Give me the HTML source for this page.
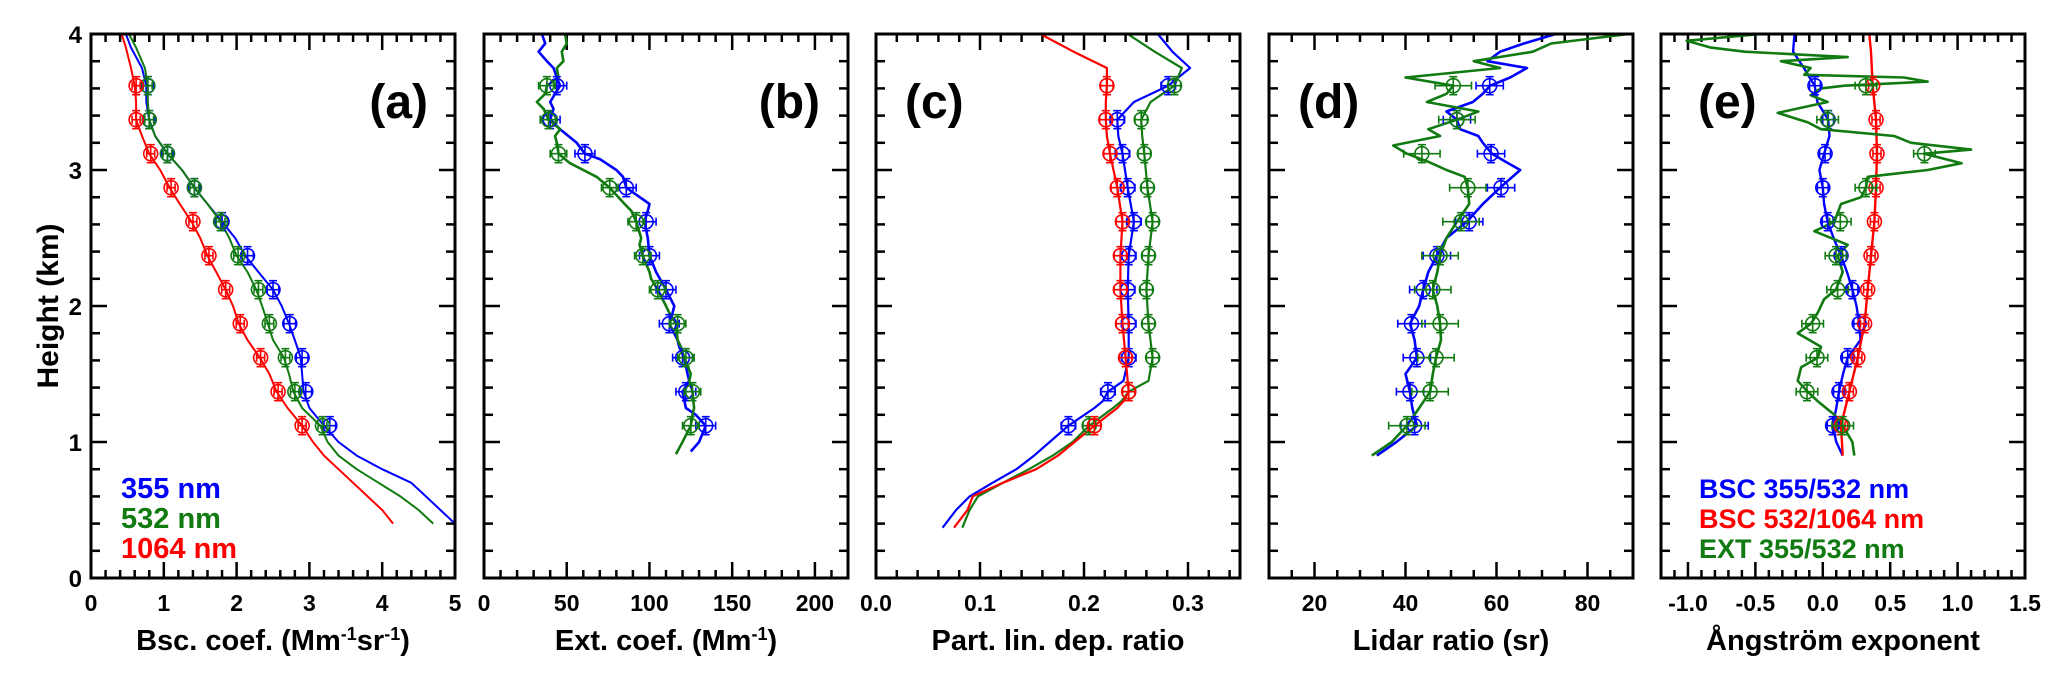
<!DOCTYPE html>
<html><head><meta charset="utf-8">
<style>
html,body{margin:0;padding:0;background:#fff;}
svg{display:block;font-family:"Liberation Sans",Arial,sans-serif;font-weight:bold;}
</style></head>
<body>
<svg id="fig" width="2067" height="682" viewBox="0 0 2067 682" xmlns="http://www.w3.org/2000/svg">
<text x="0" y="0" transform="translate(50,306) rotate(-90)" text-anchor="middle" font-size="30" dominant-baseline="middle">Height (km)</text>
</svg>
<script>
// shared heights
const markerH = [1.12,1.37,1.62,1.87,2.12,2.37,2.62,2.87,3.12,3.37,3.62];
const yTicks = [0,1,2,3,4];

// ---- panel a data ----
const aLineH = [0.4,0.5,0.6,0.7,0.8,0.9,1.0,1.12,1.25,1.37,1.5,1.62,1.75,1.87,2.0,2.12,2.25,2.37,2.5,2.62,2.75,2.87,3.0,3.12,3.25,3.37,3.5,3.62,3.75,3.9,4.0];
const aBlue  = [5.0,4.8,4.6,4.4,4.0,3.65,3.4,3.2,3.0,2.92,2.9,2.88,2.8,2.72,2.62,2.5,2.3,2.12,1.98,1.8,1.6,1.42,1.25,1.05,0.88,0.8,0.76,0.76,0.7,0.55,0.48];
const aGreen = [4.7,4.5,4.25,3.95,3.65,3.4,3.25,3.15,2.9,2.78,2.72,2.65,2.5,2.43,2.35,2.27,2.15,2.0,1.9,1.78,1.6,1.42,1.25,1.05,0.88,0.8,0.78,0.78,0.74,0.62,0.52];
const aRed   = [4.15,4.0,3.8,3.6,3.4,3.2,3.05,2.9,2.7,2.55,2.45,2.32,2.15,2.03,1.95,1.85,1.72,1.6,1.5,1.38,1.22,1.08,0.95,0.8,0.7,0.62,0.62,0.6,0.55,0.48,0.42];
const aBlueM  = [3.28,2.95,2.9,2.73,2.5,2.15,1.8,1.42,1.05,0.8,0.78];
const aGreenM = [3.18,2.8,2.67,2.45,2.3,2.02,1.78,1.42,1.05,0.8,0.78];
const aRedM   = [2.9,2.57,2.33,2.05,1.85,1.62,1.4,1.1,0.82,0.62,0.62];

// ---- panel b data ----
const bBlueH = [0.93,1.0,1.12,1.2,1.25,1.37,1.45,1.5,1.62,1.7,1.75,1.87,1.95,2.0,2.12,2.25,2.37,2.5,2.62,2.7,2.75,2.87,2.95,3.0,3.08,3.12,3.2,3.25,3.3,3.37,3.45,3.5,3.56,3.62,3.68,3.75,3.8,3.87,3.93,4.0];
const bBlue  = [125,130,134,128,122,120,124,123,121,118,117,112,114,115,110,104,100,99,97,99,100,86,84,80,70,61,56,51,46,40,42,40,43,46,44,42,38,33,37,35];
const bGreenH = [0.91,1.0,1.12,1.2,1.25,1.37,1.45,1.5,1.62,1.7,1.75,1.87,1.95,2.0,2.12,2.2,2.25,2.37,2.45,2.5,2.62,2.7,2.75,2.87,2.95,3.0,3.05,3.12,3.2,3.25,3.3,3.37,3.45,3.5,3.56,3.62,3.68,3.75,3.8,3.87,3.93,4.0];
const bGreen  = [116,120,125,126,127,126,124,125,121,119,117,116,112,110,105,101,100,96,94,95,92,89,85,76,68,60,52,45,44,43,46,39,36,32,37,38,45,44,48,47,50,49];
const bBlueM  = [134,122,120,112,110,100,98,86,61,40,44];
const bGreenM = [125,126,122,117,105,96,92,76,45,39,38];

// ---- panel c data ----
const cLineH = [0.37,0.5,0.6,0.7,0.8,0.9,1.0,1.12,1.25,1.3,1.37,1.45,1.62,1.87,2.12,2.37,2.62,2.87,3.12,3.25,3.37,3.5,3.62,3.75,3.87,4.0];
const cBlue  = [0.064,0.077,0.09,0.112,0.135,0.152,0.167,0.185,0.21,0.218,0.223,0.238,0.243,0.243,0.242,0.243,0.248,0.242,0.237,0.233,0.232,0.248,0.281,0.302,0.285,0.271];
const cRed   = [0.075,0.088,0.093,0.122,0.154,0.175,0.191,0.21,0.232,0.238,0.243,0.242,0.240,0.237,0.235,0.235,0.237,0.232,0.225,0.222,0.221,0.221,0.222,0.222,0.19,0.158];
const cGreen = [0.083,0.09,0.098,0.122,0.147,0.17,0.189,0.205,0.228,0.236,0.243,0.262,0.266,0.262,0.260,0.262,0.266,0.261,0.258,0.256,0.255,0.264,0.287,0.294,0.268,0.242];
const cBlueM  = [0.185,0.223,0.243,0.243,0.242,0.243,0.248,0.242,0.237,0.232,0.281];
const cRedM   = [0.21,0.243,0.240,0.237,0.235,0.235,0.237,0.232,0.225,0.221,0.222];
const cGreenM = [0.205,0.243,0.266,0.262,0.260,0.262,0.266,0.261,0.258,0.255,0.287];

// ---- panel d data ----
const dBlueH = [0.9,1.0,1.12,1.25,1.37,1.5,1.62,1.75,1.87,2.0,2.12,2.25,2.37,2.5,2.62,2.75,2.87,3.0,3.06,3.12,3.2,3.25,3.3,3.37,3.43,3.5,3.56,3.62,3.68,3.75,3.8,3.87,3.93,4.0];
const dBlue  = [33.7,38,42.5,41.5,41,40,42.5,42,41,43,43.9,45,46.9,49,53.5,57,60.8,65.2,62,59,57,56,52,51.3,49,54.8,57,58.6,63,66.7,58,60.8,66,73];
const dGreenH = [0.9,1.0,1.12,1.25,1.37,1.5,1.62,1.75,1.87,2.0,2.12,2.25,2.37,2.5,2.62,2.75,2.87,2.95,3.0,3.06,3.12,3.18,3.25,3.3,3.37,3.43,3.5,3.56,3.62,3.68,3.75,3.8,3.87,3.93,4.0];
const dGreen  = [32.6,37,40.3,43,45.4,46,46.7,47.8,47.6,47,46,47,47.6,49,51.3,54,53.7,53,49,45,40.3,37.3,47.6,45,51.3,56,44.7,49,50.5,40,60.8,55,68,72,89];
const dBlueM  = [42,41,42.5,41.3,43.9,46.9,54,61,58.8,51.3,58.5];
const dGreenM = [40.3,45.4,46.7,47.6,46,47.6,52.2,53.7,43.6,51.3,50.5];

// ---- panel e data ----
const eBlueH = [0.9,1.0,1.12,1.25,1.37,1.5,1.62,1.75,1.87,2.0,2.12,2.25,2.37,2.5,2.62,2.75,2.87,3.0,3.12,3.25,3.37,3.5,3.62,3.75,3.87,4.0];
const eBlue  = [0.148,0.1,0.073,0.1,0.12,0.15,0.185,0.28,0.27,0.25,0.22,0.18,0.135,0.08,0.036,0.01,0.0,-0.025,0.01,0.05,0.04,-0.04,-0.06,-0.14,-0.22,-0.21];
const eRedH = [0.9,1.12,1.37,1.62,1.87,2.12,2.37,2.62,2.87,3.12,3.37,3.62,3.87,4.0];
const eRed  = [0.148,0.135,0.197,0.26,0.31,0.333,0.358,0.383,0.395,0.402,0.395,0.37,0.358,0.345];
const eGreenH = [0.9,1.0,1.12,1.2,1.3,1.37,1.45,1.55,1.62,1.7,1.8,1.87,1.95,2.05,2.12,2.25,2.37,2.45,2.55,2.62,2.75,2.8,2.87,2.95,3.0,3.05,3.12,3.15,3.2,3.25,3.3,3.35,3.42,3.5,3.55,3.6,3.62,3.65,3.68,3.7,3.75,3.8,3.83,3.87,3.9,3.95,4.0];
const eGreen  = [0.234,0.22,0.148,0.086,-0.038,-0.112,-0.186,-0.16,-0.038,-0.013,-0.186,-0.087,-0.038,0.01,0.098,0.148,0.11,0.185,-0.062,0.086,0.135,0.284,0.32,0.333,0.778,1.03,0.754,1.1,0.655,0.53,-0.013,-0.11,-0.334,0.036,-0.09,-0.013,0.16,0.778,0.6,-0.137,-0.09,-0.31,0.185,-0.58,-0.83,-1.01,-0.46];
const eBlueM  = [0.073,0.12,0.185,0.27,0.22,0.135,0.036,0.0,0.017,0.04,-0.058];
const eRedM   = [0.135,0.197,0.26,0.31,0.333,0.358,0.383,0.395,0.402,0.395,0.37];
const eGreenM = [0.148,-0.117,-0.043,-0.075,0.11,0.098,0.13,0.32,0.754,0.036,0.32];

const BLUE='#0000ff', GREEN='#117a11', RED='#ff0000';
const NS='http://www.w3.org/2000/svg';
const svg=document.getElementById('fig');
const TOP=34, BOT=578, W=364;
const yOf = h => BOT - (h/4)*(BOT-TOP);

function mk(tag, attrs, parent){
  const e=document.createElementNS(NS,tag);
  for(const k in attrs) e.setAttribute(k,attrs[k]);
  (parent||svg).appendChild(e);
  return e;
}

function panel(cfg){
  const g=mk('g',{});
  
  
  const x0=cfg.left, x1=cfg.left+W;
  const xOf = v => x0 + (v-cfg.min)/(cfg.max-cfg.min)*W;
  const tg=mk('g',{stroke:'#000','stroke-width':2.5},g);
  
  
  const nMinor=Math.floor((cfg.max-cfg.min)/cfg.minor+1e-6);
  for(let i=0;i<=nMinor;i++){
    const v=cfg.min+i*cfg.minor;
    const isMaj=Math.abs(v/cfg.major-Math.round(v/cfg.major))<1e-6;
    const L=isMaj?16:8, x=xOf(v);
    mk('line',{x1:x,x2:x,y1:BOT,y2:BOT-L},tg);
    mk('line',{x1:x,x2:x,y1:TOP,y2:TOP+L},tg);
  }
  for(let i=0;i<=20;i++){
    const h=i*0.2, y=yOf(h), L=(i%5===0)?16:9;
    mk('line',{x1:x0,x2:x0+L,y1:y,y2:y},tg);
    mk('line',{x1:x1,x2:x1-L,y1:y,y2:y},tg);
  }
  cfg.labels.forEach(v=>{
    const t=mk('text',{x:xOf(v),y:611,'text-anchor':'middle','font-size':23},g);
    t.textContent=v.toFixed(cfg.dec);
    
    
  });
  cfg.lines.forEach(s=>{
    const pts=s.h.map((h,i)=>xOf(s.v[i]).toFixed(1)+','+yOf(h).toFixed(1)).join(' ');
    const p=mk('polyline',{points:pts,fill:'none',stroke:s.c,'stroke-width':s.w||2.2,'stroke-linejoin':'round'},g);
    
    
  });
  cfg.marks.forEach(s=>{
    const mg=mk('g',{stroke:s.c,fill:'none','stroke-width':1.6},g);
    
    
    markerH.forEach((h,i)=>{
      const x=xOf(s.v[i]), y=yOf(h), ex=Math.max(s.e*W/(cfg.max-cfg.min),4), ey=9;
      mk('line',{x1:x-ex,x2:x+ex,y1:y,y2:y},mg);
      mk('line',{x1:x-ex,x2:x-ex,y1:y-4,y2:y+4},mg);
      mk('line',{x1:x+ex,x2:x+ex,y1:y-4,y2:y+4},mg);
      mk('line',{x1:x,x2:x,y1:y-ey,y2:y+ey},mg);
      mk('line',{x1:x-4,x2:x+4,y1:y-ey,y2:y-ey},mg);
      mk('line',{x1:x-4,x2:x+4,y1:y+ey,y2:y+ey},mg);
      const c=mk('circle',{cx:x,cy:y,r:7},mg);
      
      
    });
  });
  const f=mk('rect',{x:x0,y:TOP,width:W,height:BOT-TOP,fill:'none',stroke:'#000','stroke-width':3},g);
  
  
  const lt=mk('text',{x:cfg.lx,y:118,'font-size':48,'text-anchor':cfg.la},g);
  lt.textContent='('+cfg.id+')';
  
  
  const tt=mk('text',{x:x0+W/2,y:650,'font-size':29,'text-anchor':'middle'},g);
  tt.innerHTML=cfg.title;
  
  
}

yTicks.forEach(v=>{
  const t=mk('text',{x:82,y:yOf(v)+9,'text-anchor':'end','font-size':24});
  t.textContent=v;
  
  
});

panel({id:'a',left:91,min:0,max:5,major:1,minor:0.2,labels:[0,1,2,3,4,5],dec:0,lx:428,la:'end',
  title:'Bsc. coef. (Mm<tspan dy="-10" font-size="18">-1</tspan><tspan dy="10">sr</tspan><tspan dy="-10" font-size="18">-1</tspan><tspan dy="10">)</tspan>',
  lines:[{n:'355',h:aLineH,v:aBlue,c:BLUE,w:2},{n:'532',h:aLineH,v:aGreen,c:GREEN,w:2},{n:'1064',h:aLineH,v:aRed,c:RED,w:2}],
  marks:[{n:'355',v:aBlueM,c:BLUE,e:0.08},{n:'532',v:aGreenM,c:GREEN,e:0.06},{n:'1064',v:aRedM,c:RED,e:0.05}]});
panel({id:'b',left:484,min:0,max:220,major:50,minor:10,labels:[0,50,100,150,200],dec:0,lx:820,la:'end',
  title:'Ext. coef. (Mm<tspan dy="-10" font-size="18">-1</tspan><tspan dy="10">)</tspan>',
  lines:[{n:'355',h:bBlueH,v:bBlue,c:BLUE,w:2.6},{n:'532',h:bGreenH,v:bGreen,c:GREEN,w:2.6}],
  marks:[{n:'355',v:bBlueM,c:BLUE,e:6},{n:'532',v:bGreenM,c:GREEN,e:5}]});
panel({id:'c',left:876,min:0,max:0.35,major:0.1,minor:0.02,labels:[0,0.1,0.2,0.3],dec:1,lx:905,la:'start',
  title:'Part. lin. dep. ratio',
  lines:[{n:'355',h:cLineH,v:cBlue,c:BLUE,w:2.2},{n:'532',h:cLineH,v:cGreen,c:GREEN,w:2.2},{n:'1064',h:cLineH,v:cRed,c:RED,w:2.2}],
  marks:[{n:'355',v:cBlueM,c:BLUE,e:0.007},{n:'532',v:cGreenM,c:GREEN,e:0.006},{n:'1064',v:cRedM,c:RED,e:0.006}]});
panel({id:'d',left:1269,min:10,max:90,major:20,minor:5,labels:[20,40,60,80],dec:0,lx:1298,la:'start',
  title:'Lidar ratio (sr)',
  lines:[{n:'355',h:dBlueH,v:dBlue,c:BLUE,w:2.6},{n:'532',h:dGreenH,v:dGreen,c:GREEN,w:2.6}],
  marks:[{n:'355',v:dBlueM,c:BLUE,e:3},{n:'532',v:dGreenM,c:GREEN,e:4}]});
panel({id:'e',left:1661,min:-1.2,max:1.5,major:0.5,minor:0.1,labels:[-1,-0.5,0,0.5,1,1.5],dec:1,lx:1698,la:'start',
  title:'Ångström exponent',
  lines:[{n:'bsc355-532',h:eBlueH,v:eBlue,c:BLUE,w:2.4},{n:'bsc532-1064',h:eRedH,v:eRed,c:RED,w:2.4},{n:'ext355-532',h:eGreenH,v:eGreen,c:GREEN,w:2.6}],
  marks:[{n:'bsc355-532',v:eBlueM,c:BLUE,e:0.04},{n:'bsc532-1064',v:eRedM,c:RED,e:0.03},{n:'ext355-532',v:eGreenM,c:GREEN,e:0.08}]});

const legA=[['355 nm',BLUE],['532 nm',GREEN],['1064 nm',RED]];
legA.forEach((l,i)=>{
  const t=mk('text',{x:121,y:498+i*30,'font-size':29,fill:l[1]});
  t.textContent=l[0];
  
  
});
const legE=[['BSC 355/532 nm',BLUE],['BSC 532/1064 nm',RED],['EXT 355/532 nm',GREEN]];
legE.forEach((l,i)=>{
  const t=mk('text',{x:1699,y:498+i*30,'font-size':27,fill:l[1]});
  t.textContent=l[0];
  
  
});
</script>
</body></html>
